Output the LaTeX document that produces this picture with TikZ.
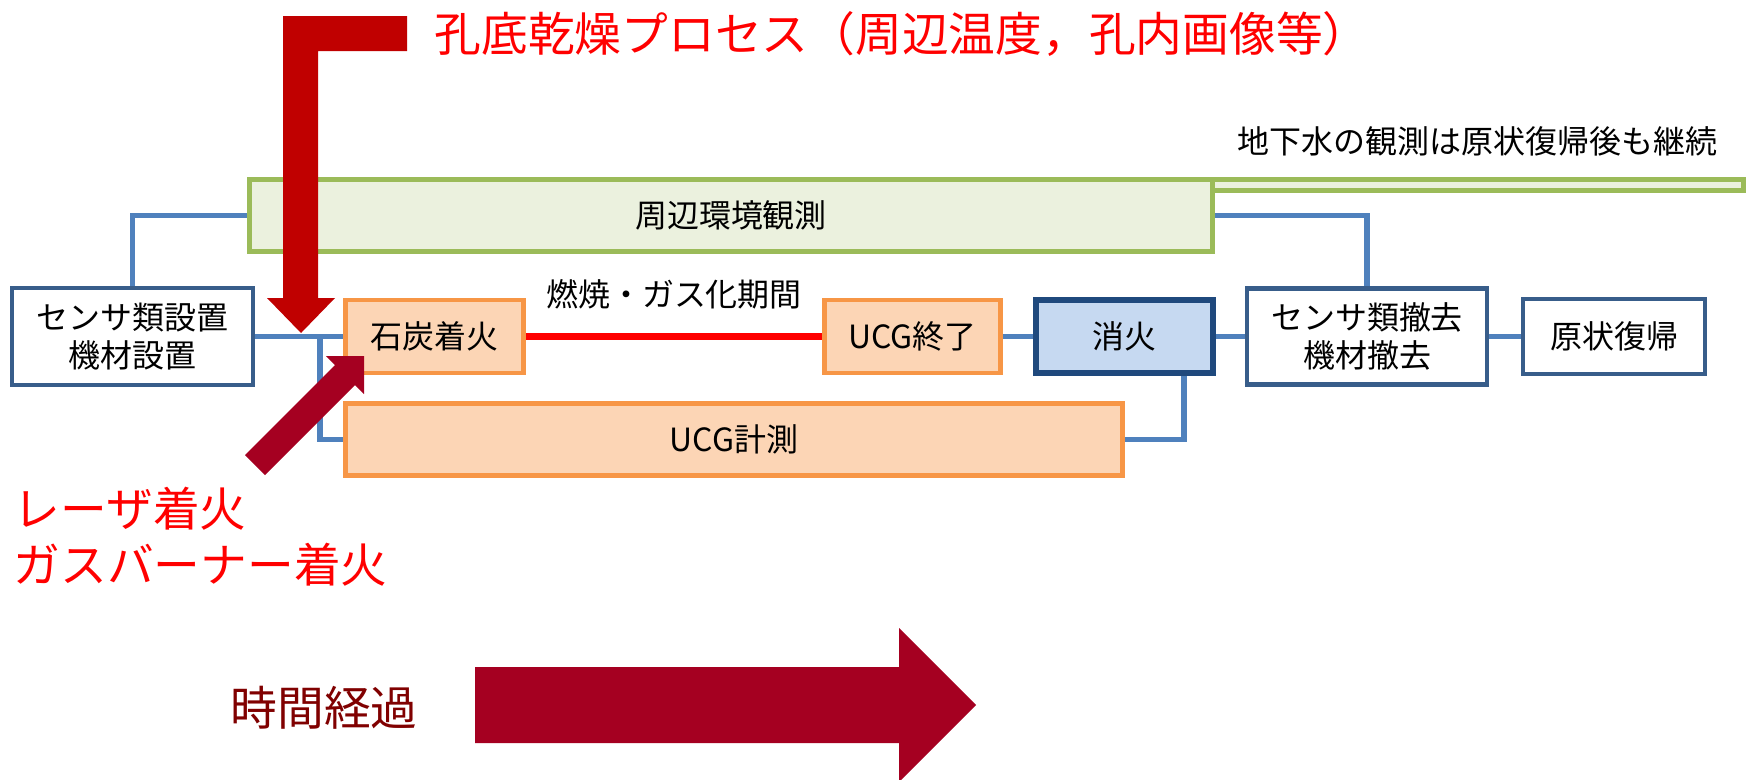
\documentclass[tikz,border=0pt]{standalone}
\usepackage{fontspec}
\setmainfont{Noto Sans CJK JP}
\newcommand{\scrittapiccola}{\fontsize{9.1pt}{10.8pt}\selectfont}
\newcommand{\scrittagrande}{\fontsize{13.3pt}{15.9pt}\selectfont}
\definecolor{filoblu}{HTML}{4F81BD}
\definecolor{bordoblu}{HTML}{385D8A}
\definecolor{bluscuro}{HTML}{1F497D}
\definecolor{azzurro}{HTML}{C6D9F1}
\definecolor{verdebordo}{HTML}{9BBB59}
\definecolor{verdefondo}{HTML}{EBF1DE}
\definecolor{arancio}{HTML}{F79646}
\definecolor{pesca}{HTML}{FCD5B5}
\definecolor{rossoscuro}{HTML}{C00000}
\definecolor{bordeaux}{HTML}{A50021}
\definecolor{marrone}{HTML}{800000}
\definecolor{rosso}{HTML}{FF0000}
\begin{document}
\begin{tikzpicture}[y=-1cm,
    scatola/.style={draw=bordoblu, line width=1.15pt, fill=white, inner sep=0pt, align=center, font=\scrittapiccola},
    fase/.style={draw=arancio, line width=1.4pt, fill=pesca, inner sep=0pt, font=\scrittapiccola},
    ambiente/.style={draw=verdebordo, line width=1.4pt, fill=verdefondo, inner sep=0pt, font=\scrittapiccola},
    spento/.style={draw=bluscuro, line width=1.8pt, fill=azzurro, inner sep=0pt, font=\scrittapiccola},
    filo/.style={draw=filoblu, line width=1.7pt},
    fuoco/.style={draw=rosso, line width=2pt},
    etichetta/.style={midway, above=0.24cm, inner sep=0pt, font=\scrittapiccola}]
    \useasboundingbox (0,0) rectangle (17.53,7.79);

    %osservazione dell'ambiente
    \node [ambiente, minimum width=5.31cm, minimum height=0.11cm] (tubo) at (14.78,1.85) {};
    \node [ambiente, minimum width=9.63cm, minimum height=0.72cm] (kankyo) at (7.31,2.155) {周辺環境観測};
    \node [inner sep=0pt, anchor=west, font=\scrittapiccola] (nota) at (12.37,1.41) {地下水の観測は原状復帰後も継続};

    %riquadri della riga principale
    \node [scatola, minimum width=2.41cm, minimum height=0.97cm] (setchi) at (1.325,3.365) {センサ類設置\\機材設置};
    \node [fase, minimum width=1.78cm, minimum height=0.73cm] (chakka) at (4.345,3.365) {石炭着火};
    \node [fase, minimum width=1.76cm, minimum height=0.73cm] (shuryo) at (9.125,3.365) {UCG終了};
    \node [spento, minimum width=1.77cm, minimum height=0.73cm] (shoka) at (11.245,3.365) {消火};
    \node [scatola, minimum width=2.40cm, minimum height=0.96cm] (tekkyo) at (13.67,3.365) {センサ類撤去\\機材撤去};
    \node [scatola, minimum width=1.82cm, minimum height=0.75cm] (fukki) at (16.14,3.365) {原状復帰};
    \node [fase, minimum width=7.77cm, minimum height=0.72cm] (keisoku) at (7.34,4.395) {UCG計測};

    %collegamenti
    \coordinate (ramo) at (3.20,3.365);
    \draw [filo] (setchi.north) |- (kankyo.west);
    \draw [filo] (setchi.east) -- (chakka.west);
    \draw [filo] (ramo) |- (keisoku.west);
    \draw [filo] (shuryo.east) -- (shoka.west);
    \draw [filo] (shoka.east) -- (tekkyo.west);
    \draw [filo] (tekkyo.east) -- (fukki.west);
    \draw [filo] (keisoku.east) -| ([xshift=0.595cm]shoka.south);
    \draw [filo] (kankyo.east) -| (tekkyo.north);
    \draw [fuoco] (chakka.east) -- node [etichetta] {燃焼・ガス化期間} (shuryo.west);

    %freccia del processo di asciugatura
    \fill [rossoscuro] (2.83,0.16) -- (4.07,0.16) -- (4.07,0.51) -- (3.18,0.51) -- (3.18,2.98) -- (3.35,2.98)
        -- (3.01,3.33) -- (2.67,2.98) -- (2.83,2.98) -- cycle;
    \node [inner sep=0pt, anchor=west, text=rosso, font=\scrittagrande] (titolo) at (4.34,0.34) {孔底乾燥プロセス（周辺温度，孔内画像等）};

    %freccia dell'accensione
    \fill [bordeaux] (2.45,4.55) -- (3.35,3.65) -- (3.26,3.56) -- (3.64,3.56) -- (3.64,3.94) -- (3.55,3.85)
        -- (2.65,4.75) -- cycle;
    \node [inner sep=0pt, anchor=west, align=left, text=rosso, font=\scrittagrande] (accensione) at (0.13,5.37) {レーザ着火\\ガスバーナー着火};

    %freccia del tempo
    \fill [bordeaux] (4.75,6.67) -- (8.99,6.67) -- (8.99,6.28) -- (9.76,7.05) -- (8.99,7.82) -- (8.99,7.43)
        -- (4.75,7.43) -- cycle;
    \node [inner sep=0pt, text=marrone, font=\scrittagrande] (tempo) at (3.24,7.08) {時間経過};

\end{tikzpicture}
\end{document}
